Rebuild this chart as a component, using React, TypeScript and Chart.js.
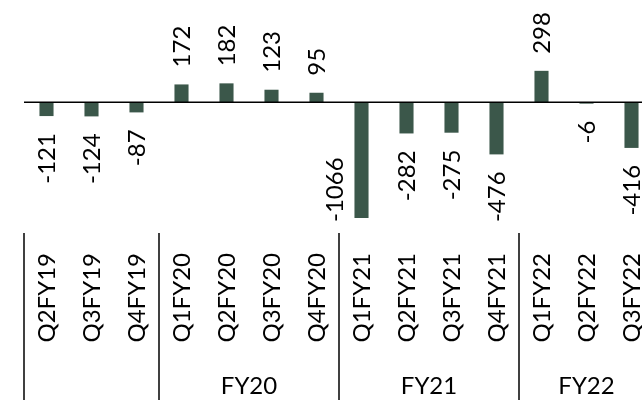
import React, { useEffect, useRef } from 'react';
import { Chart, registerables } from 'chart.js';

Chart.register(...registerables);

const categories = [
  'Q2FY19', 'Q3FY19', 'Q4FY19',
  'Q1FY20', 'Q2FY20', 'Q3FY20', 'Q4FY20',
  'Q1FY21', 'Q2FY21', 'Q3FY21', 'Q4FY21',
  'Q1FY22', 'Q2FY22', 'Q3FY22',
];
const values = [-121, -124, -87, 172, 182, 123, 95, -1066, -282, -275, -476, 298, -6, -416];
const groupLabels = ['', 'FY20', 'FY21', 'FY22'];
const groupSizes = [3, 4, 4, 3];

const BAR_COLOR = '#3B574A';
const FONT = 'Lato, "Open Sans", sans-serif';

const annotate = {
  id: 'annotate',
  afterDatasetsDraw(chart: any) {
    const ctx = chart.ctx as CanvasRenderingContext2D;
    const xs = chart.scales.x;
    const ys = chart.scales.y;
    const area = chart.chartArea;
    const meta = chart.getDatasetMeta(0);
    const zero = ys.getPixelForValue(0);
    ctx.save();

    // zero line
    ctx.strokeStyle = '#000';
    ctx.lineWidth = 1.6;
    ctx.beginPath();
    ctx.moveTo(area.left, zero - 0.7);
    ctx.lineTo(area.right, zero - 0.7);
    ctx.stroke();

    // data labels
    const fs = 24;
    const capH = fs * 0.72;
    const gap = 17;
    ctx.font = `${fs}px ${FONT}`;
    ctx.fillStyle = '#000';
    ctx.textBaseline = 'alphabetic';
    meta.data.forEach((bar: any, i: number) => {
      const v = values[i];
      const text = String(v);
      const w = ctx.measureText(text).width;
      const p = bar.getProps(['x', 'y', 'width'], true);
      let cx = p.x;
      let ty: number;
      let align: CanvasTextAlign;
      if (v >= 0) {
        ty = p.y - gap;
        align = 'left';
      } else {
        ty = p.y + gap;
        align = 'right';
        if (ty + w > area.bottom) {
          ty = area.bottom - 11 - w;
          cx = p.x - p.width / 2 - 11 - capH / 2;
        }
      }
      ctx.save();
      ctx.translate(cx, ty);
      ctx.rotate(-Math.PI / 2);
      ctx.textAlign = align;
      ctx.fillText(text, 0, capH / 2);
      ctx.restore();
    });

    // category labels
    categories.forEach((c, i) => {
      const px = xs.getPixelForValue(i);
      ctx.save();
      ctx.translate(px, area.bottom + 20);
      ctx.rotate(-Math.PI / 2);
      ctx.textAlign = 'right';
      ctx.fillText(c, 0, capH / 2);
      ctx.restore();
    });

    // group separators and labels
    const half = (xs.getPixelForValue(1) - xs.getPixelForValue(0)) / 2;
    ctx.strokeStyle = '#000';
    ctx.lineWidth = 1.5;
    ctx.font = `24px ${FONT}`;
    ctx.textAlign = 'center';
    let start = 0;
    groupSizes.forEach((n, g) => {
      const left = xs.getPixelForValue(start) - half;
      const right = xs.getPixelForValue(start + n - 1) + half;
      ctx.beginPath();
      ctx.moveTo(left, area.bottom);
      ctx.lineTo(left, chart.height);
      ctx.stroke();
      if (g === groupSizes.length - 1) {
        ctx.beginPath();
        ctx.moveTo(right, area.bottom);
        ctx.lineTo(right, chart.height);
        ctx.stroke();
      }
      if (groupLabels[g]) ctx.fillText(groupLabels[g], (left + right) / 2, 394);
      start += n;
    });

    ctx.restore();
  },
};

export default function App() {
  const ref = useRef<HTMLCanvasElement | null>(null);
  useEffect(() => {
    if (!ref.current) return;
    const chart = new Chart(ref.current, {
      type: 'bar',
      data: {
        labels: categories,
        datasets: [
          {
            data: values,
            backgroundColor: BAR_COLOR,
            borderWidth: 0,
            barPercentage: 0.313,
            categoryPercentage: 1,
          },
        ],
      },
      options: {
        animation: false,
        responsive: false,
        layout: { padding: { left: 24, right: 6, top: 0, bottom: 167 } },
        scales: {
          x: { display: false },
          y: { display: false, min: -1204, max: 954 },
        },
        plugins: { legend: { display: false }, tooltip: { enabled: false } },
      },
      plugins: [annotate],
    });
    return () => chart.destroy();
  }, []);
  return (
    <div
      style={{
        position: 'fixed',
        left: 0,
        top: 0,
        width: 642,
        height: 400,
        overflow: 'hidden',
        background: '#fff',
      }}
    >
      <canvas ref={ref} width={660} height={400} style={{ display: 'block', width: 660, height: 400 }} />
    </div>
  );
}
